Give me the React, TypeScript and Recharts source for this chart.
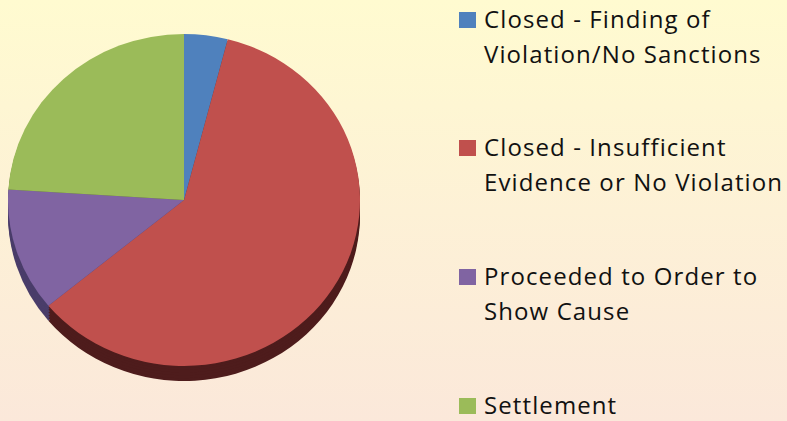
import { Cell, Pie, PieChart } from "recharts"

const categories = [
  "Closed - Finding of Violation/No Sanctions",
  "Closed - Insufficient Evidence or No Violation",
  "Proceeded to Order to Show Cause",
  "Settlement",
]
const values = [4, 60, 12, 24]
const colors = ["#4f81bd", "#c0504d", "#8064a2", "#9bbb59"]
const sideColors = ["#2c4a6e", "#4e1c1c", "#4a3d6a", "#55682f"]

const data = categories.map((name, i) => ({ name, value: values[i] }))

const SQUASH = 0.943
const CX = 184
const CY = 212
const R = 176
const depth = [16, 13, 10, 7, 4, 2]

export default function App() {
  return (
    <div
      style={{
        position: "absolute",
        left: 0,
        top: 0,
        width: 787,
        height: 421,
        overflow: "hidden",
        background: "linear-gradient(180deg, #fffbd0 0%, #fdf1d6 50%, #fbe8da 100%)",
        fontFamily: "'Open Sans', sans-serif",
      }}
    >
      <div
        style={{
          position: "absolute",
          left: 0,
          top: 0,
          transform: `scaleY(${SQUASH})`,
          transformOrigin: "0 0",
        }}
      >
        <PieChart width={380} height={447} margin={{ top: 0, right: 0, bottom: 0, left: 0 }}>
          {depth.map((d) => (
            <Pie
              key={"side" + d}
              data={data}
              dataKey="value"
              nameKey="name"
              cx={CX}
              cy={CY + d}
              outerRadius={R}
              startAngle={90}
              endAngle={-270}
              stroke="none"
              isAnimationActive={false}
            >
              {data.map((_, i) => (
                <Cell key={i} fill={sideColors[i]} />
              ))}
            </Pie>
          ))}
          <Pie
            data={data}
            dataKey="value"
            nameKey="name"
            cx={CX}
            cy={CY}
            outerRadius={R}
            startAngle={90}
            endAngle={-270}
            stroke="none"
            isAnimationActive={false}
          >
            {data.map((_, i) => (
              <Cell key={i} fill={colors[i]} />
            ))}
          </Pie>
        </PieChart>
      </div>
      <div style={{ position: "absolute", left: 459, top: 0 }}>
        {categories.map((name, i) => (
          <div
            key={name}
            style={{
              position: "absolute",
              left: 0,
              top: 0.5 + i * 128.7,
              display: "flex",
              alignItems: "flex-start",
              width: 330,
            }}
          >
            <div
              style={{
                width: 17,
                height: 16,
                marginTop: 11,
                background: colors[i],
                flex: "none",
              }}
            />
            <div
              style={{
                marginLeft: 8,
                width: 305,
                fontSize: 24,
                letterSpacing: 1.1,
                lineHeight: "35px",
                color: "#111",
              }}
            >
              {name}
            </div>
          </div>
        ))}
      </div>
    </div>
  )
}
